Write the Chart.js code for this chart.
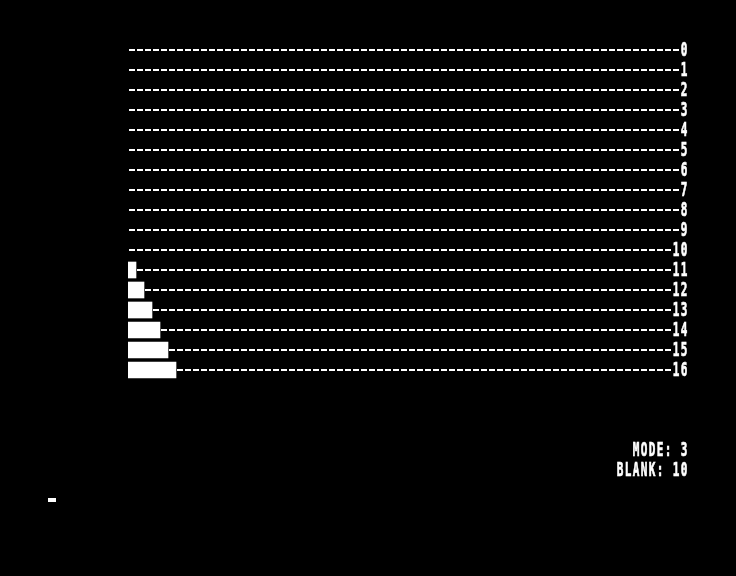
<!DOCTYPE html>
<html>
<head>
<meta charset="utf-8">
<script src="https://cdn.jsdelivr.net/npm/chart.js@4"></script>
<style>
  html, body { margin: 0; padding: 0; background: #000; }
  canvas { display: block; }
</style>
</head>
<body>
<canvas id="screen" width="736" height="576"></canvas>
<script>
// rows 0..16, bar length counted in character cells
const rowLabels = ['0', '1', '2', '3', '4', '5', '6', '7', '8', '9', '10', '11', '12', '13', '14', '15', '16'];
const barCells = [0, 0, 0, 0, 0, 0, 0, 0, 0, 0, 0, 1, 2, 3, 4, 5, 6];
const statusLines = ['MODE: 3', 'BLANK: 10'];
const maxCells = 69;

const CELL = 8;

// draw text one char per 8px cell, stretched tall like the old screen font
function drawCells(ctx, text, right, cy) {
  ctx.save();
  ctx.fillStyle = '#000';
  ctx.fillRect(right - text.length * CELL - 1, cy - 9, text.length * CELL + 1, 18);
  ctx.fillStyle = '#fff';
  ctx.strokeStyle = '#fff';
  ctx.lineWidth = 0.4;
  ctx.font = 'bold 11px "DejaVu Sans Mono"';
  ctx.textAlign = 'center';
  ctx.textBaseline = 'middle';
  for (let i = 0; i < text.length; i++) {
    const x = right - (text.length - i) * CELL + CELL / 2;
    ctx.save();
    ctx.translate(x, cy);
    ctx.scale(1, 1.75);
    ctx.fillText(text[i], 0, 0.5);
    ctx.strokeText(text[i], 0, 0.5);
    ctx.restore();
  }
  ctx.restore();
}

const screenPlugin = {
  id: 'screen',
  beforeDraw(chart) {
    const ctx = chart.ctx;
    ctx.save();
    ctx.fillStyle = '#000';
    ctx.fillRect(0, 0, chart.width, chart.height);
    ctx.restore();
  },
  afterDraw(chart) {
    const ctx = chart.ctx;
    const y = chart.scales.y;
    const right = chart.chartArea.right + CELL;
    y.ticks.forEach((t, i) => {
      drawCells(ctx, chart.data.labels[i], right, y.getPixelForTick(i));
    });
    const pitch = y.getPixelForTick(1) - y.getPixelForTick(0);
    const last = y.getPixelForTick(y.ticks.length - 1);
    statusLines.forEach((s, i) => {
      drawCells(ctx, s, right, last + pitch * (4 + i));
    });
    // cursor
    ctx.fillStyle = '#fff';
    ctx.fillRect(48, 498, 8, 4);
  }
};

const chart = new Chart(document.getElementById('screen'), {
  type: 'bar',
  data: {
    labels: rowLabels,
    datasets: [{
      data: barCells,
      backgroundColor: (c) => (c.raw ? '#fff' : 'rgba(0,0,0,0)'),
      borderWidth: 0,
      barThickness: 16,
    }],
  },
  options: {
    indexAxis: 'y',
    responsive: false,
    animation: false,
    devicePixelRatio: 1,
    layout: { padding: { left: 128, right: 56, top: 40, bottom: 196 } },
    plugins: { legend: { display: false }, tooltip: { enabled: false } },
    scales: {
      x: { type: 'linear', min: 0, max: maxCells, display: false },
      y: {
        position: 'right',
        grid: { color: '#fff', lineWidth: 2, offset: false, drawTicks: false },
        border: { display: false, dash: [6, 2], dashOffset: 7 },
        ticks: { display: false },
        afterFit: (s) => { s.width = 0; },
      },
    },
  },
  plugins: [screenPlugin],
});
</script>
</body>
</html>
